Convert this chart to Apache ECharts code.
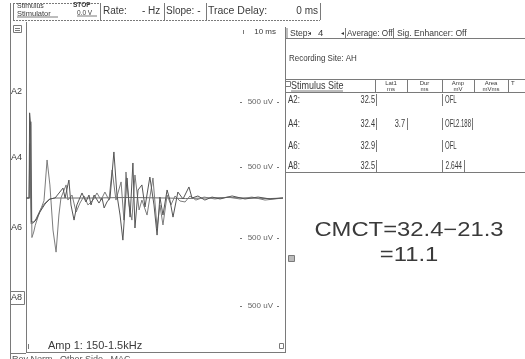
<!DOCTYPE html>
<html>
<head>
<meta charset="utf-8">
<script src="https://cdn.jsdelivr.net/npm/echarts@6/dist/echarts.min.js"></script>
<style>
  html, body { margin: 0; padding: 0; background: #fff; }
  #main { width: 525px; height: 359px; }
</style>
</head>
<body>
<div id="main"></div>
<script>
// Superimposed MEP sweeps, time in ms, amplitude in µV
const trace1 = [
  [0, 0], [1.2, 0], [1.4, 625], [1.8, 535], [2.1, -176], [3.1, -176], [3.9, -162],
  [5.4, -103], [7.4, -44], [9.3, -7], [11.3, 0], [14.4, 73], [15.2, 0], [16.7, 132],
  [17.5, -51], [18.7, -162], [19.8, -51], [20.6, -15], [21.8, 37], [23.3, -29],
  [24.5, 22], [25.3, -51], [26.5, 22], [28.4, -37], [29.6, 0], [30.4, -73],
  [31.5, -29], [32.7, 0], [34.2, 338], [35.4, 22], [36.6, -125], [37.7, -309],
  [39.3, 147], [40.5, -140], [41.6, 257], [42.4, -220], [43.6, 59], [45.1, 96],
  [46.3, -66], [48.2, 154], [49.8, -51], [51.0, -272], [52.1, 7], [53.3, -125],
  [54.9, 59], [56.0, -15], [57.2, -140], [59.1, 44], [61.1, -7], [63.4, 81],
  [64.6, 0], [66.9, 15], [69.6, -15], [72.4, 7], [75.5, -7], [80.2, 15],
  [85.2, -7], [90.3, 7], [94.9, -7], [100, 0]
];
const trace2 = [
  [0, 0], [1.6, 0], [1.9, 560], [2.3, -290], [3.0, -250], [3.6, -200], [4.8, -130],
  [6.0, -70], [7.0, -20], [8.2, 279], [9.3, 96], [10.5, -235], [11.7, -397],
  [12.8, -125], [13.6, 0], [15.6, 96], [16.3, -15], [17.9, 22], [19.5, -103],
  [21.0, -37], [22.6, 15], [24.1, -51], [26.1, -15], [27.6, 37], [29.2, -15],
  [30.7, 44], [32.3, -15], [33.5, 206], [35.0, -15], [37.0, 118], [38.1, -162],
  [38.9, 191], [40.1, -51], [41.2, -162], [42.4, 169], [44.0, -88], [45.1, -15],
  [47.1, -125], [49.4, 147], [51.0, -220], [52.1, -51], [53.3, -198], [54.9, 22],
  [56.4, -51], [58.0, 15], [59.9, -22], [61.9, -29], [63.8, 15], [66.1, -15],
  [69.3, 7], [73.5, -7], [78.6, 7], [83.3, -7], [87.9, 7], [93.0, -15], [100, 0]
];
const trace3 = [
  [0, 0], [1.2, 0], [1.5, 400], [2.0, -190], [3.0, -180], [4.0, -150], [5.5, -90],
  [7.0, -45], [9.0, -10], [11.0, 0], [25, 0], [40, 4], [55, 0], [62, -4], [70, 0],
  [78, 4], [86, 0], [95, -4], [100, 0]
];

// Channel labels and sensitivity per channel
const channels = ['A2', 'A4', 'A6', 'A8'];
const sensitivity = ['500 uV', '500 uV', '500 uV', '500 uV'];

// Results table
const stimSites = ['A2:', 'A4:', 'A6:', 'A8:'];
const lat1 = ['32.5', '32.4', '32.9', '32.5'];
const dur = ['', '3.7', '', ''];
const amp = ['OFL', 'OFL', 'OFL', '2.644'];
const area = ['', '2.188', '', ''];

const cmctLine1 = 'CMCT=32.4\u221221.3';
const cmctLine2 = '=11.1';

const FONT = '"Liberation Sans", Arial, sans-serif';
const INK = '#3a3a3a';
const RULE = '#7a7a7a';

function T(x, y, text, size, opt) {
  opt = opt || {};
  return {
    type: 'text', silent: true,
    x: x, y: y,
    style: {
      text: text, x: 0, y: 0,
      font: (opt.weight || 'normal') + ' ' + size + 'px ' + FONT,
      fill: opt.fill || INK,
      align: opt.align || 'left', textAlign: opt.align || 'left',
      verticalAlign: 'middle', textVerticalAlign: 'middle'
    },
    scaleX: opt.sx || 1
  };
}
function L(x1, y1, x2, y2, opt) {
  opt = opt || {};
  return {
    type: 'line', silent: true,
    shape: { x1: x1, y1: y1, x2: x2, y2: y2 },
    style: { stroke: opt.stroke || RULE, lineWidth: opt.w || 1, lineDash: opt.dash || null }
  };
}
function R(x, y, w, h, opt) {
  opt = opt || {};
  return {
    type: 'rect', silent: true,
    shape: { x: x, y: y, width: w, height: h },
    style: { stroke: opt.stroke || RULE, fill: opt.fill || 'none', lineWidth: 1 }
  };
}

const g = [];
// top toolbar
g.push(L(13, 3.5, 100, 3.5, { dash: [2, 1] }));
g.push(L(13.5, 3, 13.5, 20));
g.push(T(17, 6.5, 'Stimulus', 7));
g.push(T(17, 13.5, 'Stimulator', 7.5));
g.push(L(17, 17, 58, 17));
g.push(T(73, 5.5, 'STOP', 6.5, { weight: 'bold' }));
g.push(T(77, 13, '0.0 V', 6.5));
g.push(L(77, 16, 97, 16));
g.push(L(100.5, 3, 100.5, 20));
g.push(T(103, 11, 'Rate:', 10));
g.push(T(142, 11, '- Hz', 10));
g.push(L(164.5, 3, 164.5, 20));
g.push(T(166, 11, 'Slope: -', 10));
g.push(L(206.5, 3, 206.5, 20));
g.push(T(208, 11, 'Trace Delay:', 10.5));
g.push(T(318, 11, '0 ms', 10, { align: 'right' }));
g.push(L(320.5, 3, 320.5, 20));
g.push(L(13, 20.5, 320, 20.5, { dash: [2, 1] }));

// left frame and waveform panel borders
g.push(L(10.5, 3, 10.5, 359));
g.push(L(26.5, 22, 26.5, 353));
g.push(L(285.5, 27, 285.5, 353));
g.push(L(26, 352.5, 286, 352.5));
g.push(L(10, 353.5, 26, 353.5));
g.push(R(13.5, 25.5, 8, 7));
g.push(L(15, 28.5, 20, 28.5));
g.push(L(15, 30.5, 20, 30.5));
g.push(T(276, 32, '10 ms', 8, { align: 'right' }));
g.push(L(243.5, 30, 243.5, 34));

// channel labels and sensitivity marks
const chY = [92, 158, 228, 298];
const sensY = [102, 167, 238, 306];
channels.forEach(function (c, i) {
  g.push(T(11, chY[i], c, 9));
  g.push(T(273, sensY[i], sensitivity[i], 8, { align: 'right', fill: '#666' }));
  g.push(L(240, sensY[i] + 0.5, 242, sensY[i] + 0.5, { stroke: '#777' }));
  g.push(L(277, sensY[i] + 0.5, 279, sensY[i] + 0.5, { stroke: '#777' }));
});
g.push(R(10.5, 291.5, 14, 13));

g.push(T(48, 346, 'Amp 1: 150-1.5kHz', 11));
g.push(L(28.5, 344, 28.5, 349));
g.push(R(279.5, 343.5, 4, 5));
g.push(T(12, 360, 'Rev Norm   Other Side   MAC', 9, { fill: '#555' }));

// right panel header
g.push(L(287, 28, 287, 38));
g.push(T(290, 33, 'Step:', 9.5, { sx: 0.9 }));
g.push(T(308, 33, '\u25C2', 6));
g.push(T(318, 33, '4', 9.5));
g.push(T(341, 33, '\u25C2', 6));
g.push(L(345.5, 28, 345.5, 38));
g.push(T(347, 33, 'Average: Off', 9.5, { sx: 0.86 }));
g.push(L(393.5, 28, 393.5, 38));
g.push(T(397, 33, 'Sig. Enhancer: Off', 9.5, { sx: 0.9 }));
g.push(L(286, 38.5, 525, 38.5));
g.push(T(289, 58, 'Recording Site: AH', 9.5, { sx: 0.84 }));

// results table
const colEdges = [285, 375, 407, 442, 474, 508];
g.push(L(285, 79.5, 525, 79.5));
g.push(L(285, 92.5, 525, 92.5));
colEdges.forEach(function (x) { g.push(L(x + 0.5, 79, x + 0.5, 92)); });
g.push(R(285.5, 81.5, 5, 5));
g.push(T(291, 86, 'Stimulus Site', 10, { sx: 0.9 }));
g.push(L(291, 91, 343, 91));
const heads = [['Lat1', 'ms'], ['Dur', 'ms'], ['Amp', 'mV'], ['Area', 'mVms']];
heads.forEach(function (h, i) {
  const cx = (colEdges[i + 1] + colEdges[i + 2]) / 2;
  g.push(T(cx, 83, h[0], 6, { align: 'center' }));
  g.push(T(cx, 89, h[1], 6, { align: 'center' }));
});
g.push(T(511, 83, 'T', 6));

const rowY = [100, 124, 146, 166];
stimSites.forEach(function (s, i) {
  const y = rowY[i];
  g.push(T(288, y, s, 10, { sx: 0.8 }));
  g.push(T(375, y, lat1[i], 10, { align: 'right', sx: 0.74 }));
  g.push(L(376.5, y - 6, 376.5, y + 6));
  if (dur[i]) {
    g.push(T(405, y, dur[i], 10, { align: 'right', sx: 0.74 }));
    g.push(L(407.5, y - 6, 407.5, y + 6));
  }
  g.push(L(442.5, y - 6, 442.5, y + 6));
  if (amp[i] === 'OFL') {
    g.push(T(445, y, amp[i], 10, { sx: 0.6 }));
  } else {
    g.push(T(462, y, amp[i], 10, { align: 'right', sx: 0.66 }));
    g.push(L(464.5, y - 6, 464.5, y + 6));
  }
  if (area[i]) {
    g.push(T(471, y, area[i], 10, { align: 'right', sx: 0.6 }));
    g.push(L(472.5, y - 6, 472.5, y + 6));
  }
});
g.push(L(285.5, 93, 285.5, 172));
g.push(L(285, 172.5, 525, 172.5));

// CMCT annotation
g.push(R(288.5, 255.5, 6, 6, { fill: '#bbb' }));
g.push(T(409, 230, cmctLine1, 20, { align: 'center', sx: 1.19 }));
g.push(T(409, 255, cmctLine2, 20, { align: 'center', sx: 1.19 }));

const chart = echarts.init(document.getElementById('main'), null, { renderer: 'canvas' });
function sweep(data, color) {
  return {
    type: 'line', data: data, showSymbol: false, silent: true, animation: false,
    lineStyle: { color: color, width: 1 }, z: 3
  };
}
chart.setOption({
  backgroundColor: '#ffffff',
  animation: false,
  grid: { left: 26, right: 242, top: 27, bottom: 7 },
  xAxis: { type: 'value', min: 0, max: 100, show: false },
  yAxis: { type: 'value', min: -1130, max: 1255, show: false },
  series: [
    sweep(trace3, '#6e6e6e'),
    sweep(trace2, '#7c7c7c'),
    sweep(trace1, '#555555')
  ],
  graphic: { elements: g }
});
</script>
</body>
</html>
